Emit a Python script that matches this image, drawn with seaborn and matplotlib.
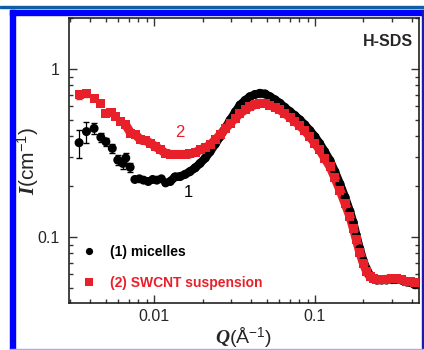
import numpy as np
import pandas as pd
import seaborn as sns
from matplotlib import pyplot as plt
from matplotlib.patches import Rectangle

# values
q_mic = [0.00342, 0.0038, 0.00424, 0.00467, 0.00502, 0.0055, 0.00595, 0.0064, 0.00667, 0.0071,
         0.0076, 0.0081, 0.0086, 0.0092, 0.0098, 0.0104, 0.0111, 0.0118, 0.0126, 0.0135,
         0.0145, 0.0156, 0.0167, 0.018, 0.0193, 0.0208, 0.0223, 0.024, 0.0257, 0.0277,
         0.0297, 0.032, 0.0342, 0.0368, 0.0394, 0.0424, 0.0455, 0.049, 0.0525, 0.0565,
         0.0606, 0.065, 0.07, 0.075, 0.0807, 0.0865, 0.093, 0.1, 0.107, 0.115,
         0.124, 0.133, 0.143, 0.154, 0.165, 0.173, 0.181, 0.19, 0.2, 0.21,
         0.22, 0.231, 0.242, 0.26, 0.279, 0.3, 0.321, 0.345, 0.371, 0.395, 0.418]
i_mic = [0.364, 0.424, 0.443, 0.392, 0.369, 0.337, 0.287, 0.274, 0.295, 0.26,
         0.22, 0.222, 0.218, 0.214, 0.22, 0.218, 0.222, 0.21, 0.214, 0.228,
         0.229, 0.236, 0.245, 0.258, 0.274, 0.295, 0.322, 0.357, 0.395, 0.445,
         0.497, 0.555, 0.61, 0.65, 0.684, 0.705, 0.716, 0.71, 0.684, 0.655,
         0.625, 0.59, 0.557, 0.528, 0.497, 0.465, 0.43, 0.395, 0.36, 0.322,
         0.285, 0.245, 0.207, 0.172, 0.142, 0.122, 0.102, 0.085, 0.072, 0.064,
         0.059, 0.057, 0.0555, 0.0555, 0.0555, 0.0558, 0.056, 0.0555, 0.054, 0.0535, 0.052]
e_mic = [0.07, 0.06, 0.035, 0.025, 0.02, 0.02, 0.02, 0.02, 0.02, 0.015] + [0.0] * 61

q_swc = [0.00342, 0.0038, 0.00424, 0.00467, 0.00502, 0.0054, 0.00578, 0.0062, 0.00667, 0.00717,
         0.0077, 0.00827, 0.00889, 0.00954, 0.0102, 0.011, 0.0118, 0.0127, 0.0136, 0.0145,
         0.0156, 0.0167, 0.018, 0.0193, 0.0208, 0.0223, 0.024, 0.0257, 0.0277, 0.0297,
         0.032, 0.0342, 0.0368, 0.0394, 0.0424, 0.0455, 0.049, 0.0525, 0.0565, 0.0606,
         0.065, 0.07, 0.075, 0.0807, 0.0865, 0.093, 0.1, 0.107, 0.115, 0.124,
         0.133, 0.143, 0.154, 0.165, 0.173, 0.181, 0.19, 0.2, 0.21, 0.22,
         0.231, 0.242, 0.26, 0.279, 0.3, 0.321, 0.345, 0.371, 0.395, 0.418]
i_swc = [0.70, 0.716, 0.663, 0.619, 0.545, 0.553, 0.52, 0.49, 0.464, 0.414,
         0.405, 0.378, 0.374, 0.361, 0.345, 0.33, 0.315, 0.31, 0.31, 0.31,
         0.31, 0.312, 0.318, 0.33, 0.34, 0.353, 0.378, 0.405, 0.44, 0.475,
         0.51, 0.545, 0.572, 0.596, 0.612, 0.625, 0.625, 0.61, 0.59, 0.57,
         0.545, 0.515, 0.49, 0.458, 0.43, 0.395, 0.362, 0.33, 0.295, 0.262,
         0.225, 0.19, 0.158, 0.132, 0.113, 0.096, 0.081, 0.0695, 0.062, 0.058,
         0.0565, 0.0555, 0.0558, 0.056, 0.0565, 0.0566, 0.0555, 0.0543, 0.054, 0.0537]
e_swc = [0.035, 0.035, 0.02] + [0.0] * 67

red = '#e8202a'

sns.set_style('ticks')
plt.rcParams['font.family'] = ['Liberation Sans', 'DejaVu Sans']
plt.rcParams['mathtext.fontset'] = 'custom'
plt.rcParams['mathtext.it'] = 'Liberation Serif:italic:bold'
plt.rcParams['mathtext.rm'] = 'Liberation Sans'

fig = plt.figure(figsize=(4.24, 3.5), dpi=100)
ax = fig.add_axes([0.1627, 0.1343, 0.8255, 0.8143])

df = pd.concat([
    pd.DataFrame({'Q': q_mic, 'I': i_mic, 'sample': '(1) micelles'}),
    pd.DataFrame({'Q': q_swc, 'I': i_swc, 'sample': '(2) SWCNT suspension'}),
])

# error bars on the low-Q points
ax.errorbar(q_mic, i_mic, yerr=e_mic, fmt='none', ecolor='black', elinewidth=0.9, capsize=2, zorder=1)
ax.errorbar(q_swc, i_swc, yerr=e_swc, fmt='none', ecolor=red, elinewidth=0.9, capsize=2, zorder=1)

# thick line under the dense part so the band looks continuous
sns.lineplot(data=df[(df['sample'] == '(1) micelles') & (df['Q'] > 0.0125)], x='Q', y='I',
             color='black', lw=6, sort=False, ax=ax, legend=False, zorder=2)
sns.lineplot(data=df[(df['sample'] != '(1) micelles') & (df['Q'] > 0.0062)], x='Q', y='I',
             color=red, lw=6.5, sort=False, ax=ax, legend=False, zorder=3)

sns.scatterplot(data=df, x='Q', y='I', hue='sample', style='sample',
                palette=['black', red], markers=['o', 's'], s=42, linewidth=0,
                ax=ax, zorder=4)

ax.set_xscale('log')
ax.set_yscale('log')
ax.set_xlim(0.00296, 0.443)
ax.set_ylim(0.0405, 2.01)
ax.set_xticks([0.01, 0.1])
ax.set_xticklabels(['0.01', '0.1'])
ax.set_yticks([0.1, 1])
ax.set_yticklabels(['0.1', '1'])

ax.tick_params(which='both', direction='in', top=True, right=True, labelsize=11.5, width=1, color='#333333')
ax.tick_params(which='major', length=6)
ax.tick_params(which='minor', length=3)
ax.tick_params(axis='y', pad=7)
ax.tick_params(axis='x', pad=4)
for sp in ax.spines.values():
    sp.set_linewidth(1.2)
    sp.set_color('#222222')

ax.set_xlabel(r'$\mathit{Q}$(Å$^{-1}$)', fontsize=14, labelpad=1)
ax.set_ylabel(r'$\mathit{I}$(cm$^{-1}$)', fontsize=15)
ax.yaxis.set_label_coords(-0.08, 0.5)

ax.text(0.983, 0.916, 'H-SDS', transform=ax.transAxes, ha='right', va='center',
        fontsize=11.5, fontweight='bold')
ax.text(0.0145, 0.416, '2', color=red, fontsize=12, ha='center', va='center')
ax.text(0.01625, 0.185, '1', color='black', fontsize=12, ha='center', va='center')

leg = ax.legend(loc='lower left', bbox_to_anchor=(0.041, 0.046), borderaxespad=0, borderpad=0,
                frameon=False, handlelength=0.8, handletextpad=1.1, labelspacing=1.23,
                prop={'weight': 'bold', 'size': 10}, markerscale=0.8)
for txt, c in zip(leg.get_texts(), ['black', red]):
    txt.set_color(c)

# blue page frame around the figure
W, H = 424, 350
fig.patches.append(Rectangle((0, 1 - 8 / H), 1, 2 / H, transform=fig.transFigure,
                             color='#0d5ea6', zorder=10))
fig.patches.append(Rectangle((9.5 / W, 0), 5.5 / W, 1 - 10 / H, transform=fig.transFigure,
                             color='#0000ff', zorder=10))
fig.patches.append(Rectangle((9.5 / W, 1 - 15 / H), 1 - 9.5 / W, 5 / H, transform=fig.transFigure,
                             color='#0000ff', zorder=10))
fig.patches.append(Rectangle((1 - 2.5 / W, 0), 2.5 / W, 1 - 10 / H, transform=fig.transFigure,
                             color='#1a1ab0', zorder=10))
fig.patches.append(Rectangle((9.5 / W, 0), 1 - 9.5 / W, 1.5 / H, transform=fig.transFigure,
                             color='#a8a8ff', zorder=10))

fig.savefig('out.png', dpi=100)
